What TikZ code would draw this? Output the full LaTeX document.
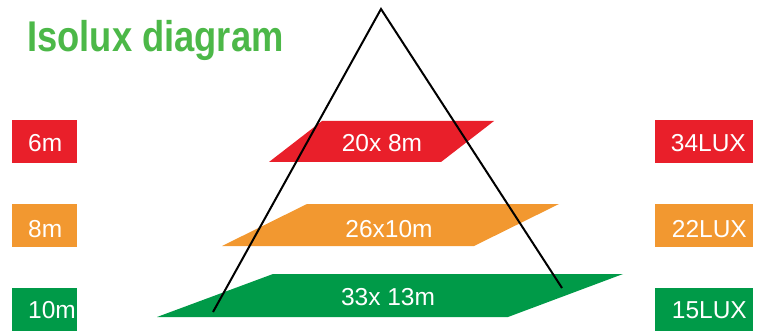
\documentclass[tikz,border=0pt]{standalone}
\usepackage{fontspec}
\setmainfont{Liberation Sans}
\definecolor{cred}{HTML}{E91F2A}
\definecolor{corange}{HTML}{F29830}
\definecolor{cgreen}{HTML}{009A48}
\definecolor{ctitle}{HTML}{4CB848}
\begin{document}
\begin{tikzpicture}[x=1pt,y=-1pt,
  sidebox/.style={rectangle,draw=none,inner sep=0pt,minimum width=#1,minimum height=43pt},
  boxtext/.style={text=white,inner sep=0pt,font=\fontsize{24.5}{28}\selectfont},
  beam/.style={draw=black,line width=2pt}]
\useasboundingbox (0,0) rectangle (762,331);
% title
\node[anchor=base west,inner sep=0pt,text=ctitle,font=\fontsize{43}{48}\selectfont\bfseries] (title) at (27,52) {\scalebox{0.845}[1]{Isolux diagram}};
% slabs
\fill[cred] (322,121) -- (494,121) -- (441,162) -- (269,162) -- cycle;
\fill[corange] (307,204) -- (559,204) -- (474,246) -- (222,246) -- cycle;
\fill[cgreen] (273,274) -- (623,274) -- (508,317) -- (157,317) -- cycle;
% beam
\coordinate (apex) at (381,9);
\coordinate (lfoot) at (213,312);
\coordinate (rfoot) at (562,288);
\draw[beam] (lfoot) -- (apex) -- (rfoot);
% slab labels
\node[boxtext,anchor=base] (s1) at (382,152) {20x 8m};
\node[boxtext,anchor=base] (s2) at (389,237) {26x10m};
\node[boxtext,anchor=base] (s3) at (388,305) {33x 13m};
% left boxes
\node[sidebox=65pt,fill=cred] (h1) at (44.5,141.5) {};
\node[sidebox=65pt,fill=corange] (h2) at (44.5,225.5) {};
\node[sidebox=65pt,fill=cgreen] (h3) at (44.5,309) {};
\node[boxtext,anchor=base west] (h1t) at (28,152) {6m};
\node[boxtext,anchor=base west] (h2t) at (28,237) {8m};
\node[boxtext,anchor=base west] (h3t) at (28,318) {10m};
% right boxes
\node[sidebox=98pt,fill=cred] (l1) at (704,141.5) {};
\node[sidebox=98pt,fill=corange] (l2) at (704,225.5) {};
\node[sidebox=98pt,fill=cgreen] (l3) at (704,309) {};
\node[boxtext,anchor=base east] (l1t) at (746,152) {34LUX};
\node[boxtext,anchor=base east] (l2t) at (747,237) {22LUX};
\node[boxtext,anchor=base east] (l3t) at (747,318) {15LUX};
\end{tikzpicture}
\end{document}
